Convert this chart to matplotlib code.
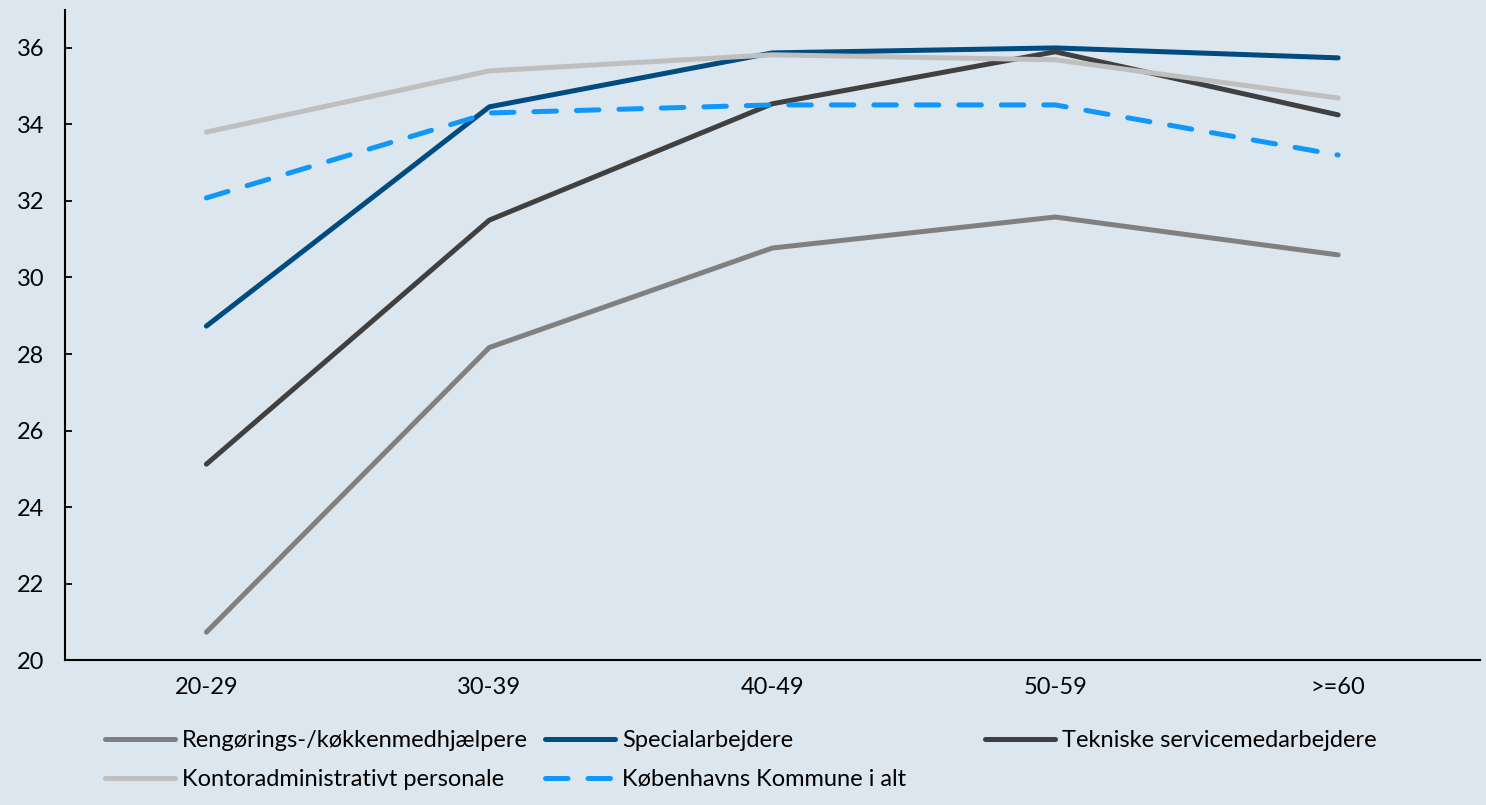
import matplotlib.pyplot as plt
from matplotlib.lines import Line2D

plt.rcParams['font.family'] = ['Lato', 'DejaVu Sans']

ages = ["20-29", "30-39", "40-49", "50-59", ">=60"]
rengoring = [20.73, 28.17, 30.77, 31.58, 30.59]
special = [28.73, 34.46, 35.87, 36.0, 35.74]
tekniske = [25.12, 31.5, 34.54, 35.9, 34.25]
kontor = [33.8, 35.4, 35.82, 35.69, 34.69]
kbh = [32.08, 34.3, 34.51, 34.51, 33.2]

bg = "#dce6ee"
fs = 17
fig = plt.figure(figsize=(14.86, 8.05), dpi=100, facecolor=bg)
ax = fig.add_axes([0.0437, 0.180, 0.952, 0.808], facecolor=bg)

x = range(len(ages))
lw = 3.6
series = [
    ("Rengørings-/køkkenmedhjælpere", rengoring, "#808080", "-"),
    ("Specialarbejdere", special, "#004b80", "-"),
    ("Tekniske servicemedarbejdere", tekniske, "#404040", "-"),
    ("Kontoradministrativt personale", kontor, "#bfbfbf", "-"),
    ("Københavns Kommune i alt", kbh, "#1097fb", (0, (4.5, 4.0))),
]
handles = {}
for name, vals, col, ls in series:
    ln, = ax.plot(x, vals, color=col, lw=lw, ls=ls, solid_capstyle="round",
                  dash_capstyle="round", label=name)
    handles[name] = ln

ax.set_xlim(-0.5, 4.5)
ax.set_ylim(20, 37)
ax.set_yticks(range(20, 37, 2))
ax.set_xticks(list(x))
ax.set_xticklabels(ages)
ax.tick_params(axis="y", direction="in", length=5, width=1.3, labelsize=fs, pad=15)
ax.tick_params(axis="x", length=0, labelsize=fs, pad=12)
for s in ["top", "right"]:
    ax.spines[s].set_visible(False)
for s in ["left", "bottom"]:
    ax.spines[s].set_linewidth(1.5)

cols = [
    (["Rengørings-/køkkenmedhjælpere", "Kontoradministrativt personale"], 0.0707),
    (["Specialarbejdere", "Københavns Kommune i alt"], 0.3668),
    (["Tekniske servicemedarbejdere"], 0.6629),
]
for names, xpos in cols:
    leg = fig.legend([handles[n] for n in names], names, loc="upper left",
                     bbox_to_anchor=(xpos, 0.093), frameon=False, fontsize=fs,
                     handlelength=2.95, handletextpad=0.3, labelspacing=0.75,
                     borderaxespad=0, borderpad=0)

fig.savefig("out.png", dpi=100, facecolor=bg)
